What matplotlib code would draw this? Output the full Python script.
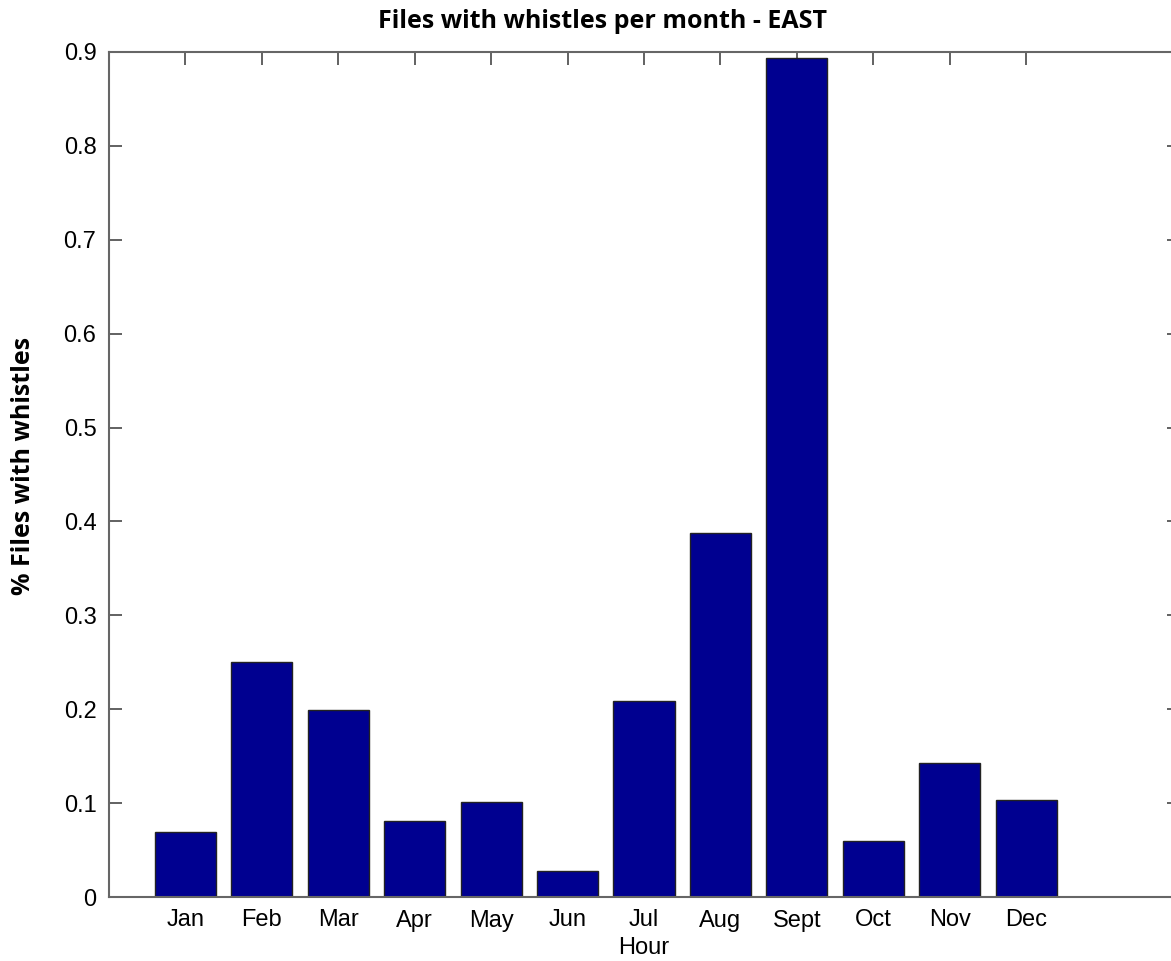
import matplotlib
matplotlib.use("Agg")
import matplotlib.pyplot as plt

months = ["Jan", "Feb", "Mar", "Apr", "May", "Jun", "Jul", "Aug", "Sept", "Oct", "Nov", "Dec"]
values = [0.069, 0.250, 0.199, 0.081, 0.101, 0.028, 0.209, 0.388, 0.894, 0.060, 0.143, 0.103]
yticks = [0, 0.1, 0.2, 0.3, 0.4, 0.5, 0.6, 0.7, 0.8, 0.9]
ytick_labels = ["0", "0.1", "0.2", "0.3", "0.4", "0.5", "0.6", "0.7", "0.8", "0.9"]

W, H = 1171, 961
fig = plt.figure(figsize=(W / 100, H / 100), dpi=100)
left, right, top, bottom = 109, 1179, 52, 897
ax = fig.add_axes([left / W, 1 - bottom / H, (right - left) / W, (bottom - top) / H])

x = list(range(1, len(months) + 1))
ax.bar(x, values, width=0.8, color="#000090", edgecolor="#222222", linewidth=1.0, zorder=2)

ax.set_xlim(0, 14)
ax.set_ylim(0, 0.9)
ax.set_xticks(x)
ax.set_xticklabels(months, fontsize=17, family="Liberation Sans")
ax.set_yticks(yticks)
ax.set_yticklabels(ytick_labels, fontsize=17, family="Liberation Sans")
ax.tick_params(direction="in", length=9, width=1.3, color="#555555", top=True, right=True, pad=9)
for s in ax.spines.values():
    s.set_color("#666666")
    s.set_linewidth(1.5)

ax.set_xlabel("Hour", fontsize=17, family="Liberation Sans", labelpad=4)
fig.text(603 / W, 1 - 22 / H, "Files with whistles per month - EAST", ha="center", va="center",
         fontsize=18, fontweight="bold", family="Open Sans")
fig.text(24 / W, 1 - 466 / H, "% Files with whistles", ha="center", va="center", rotation=90,
         fontsize=18, fontweight="bold", family="Open Sans")

fig.savefig("out.png", dpi=100)
